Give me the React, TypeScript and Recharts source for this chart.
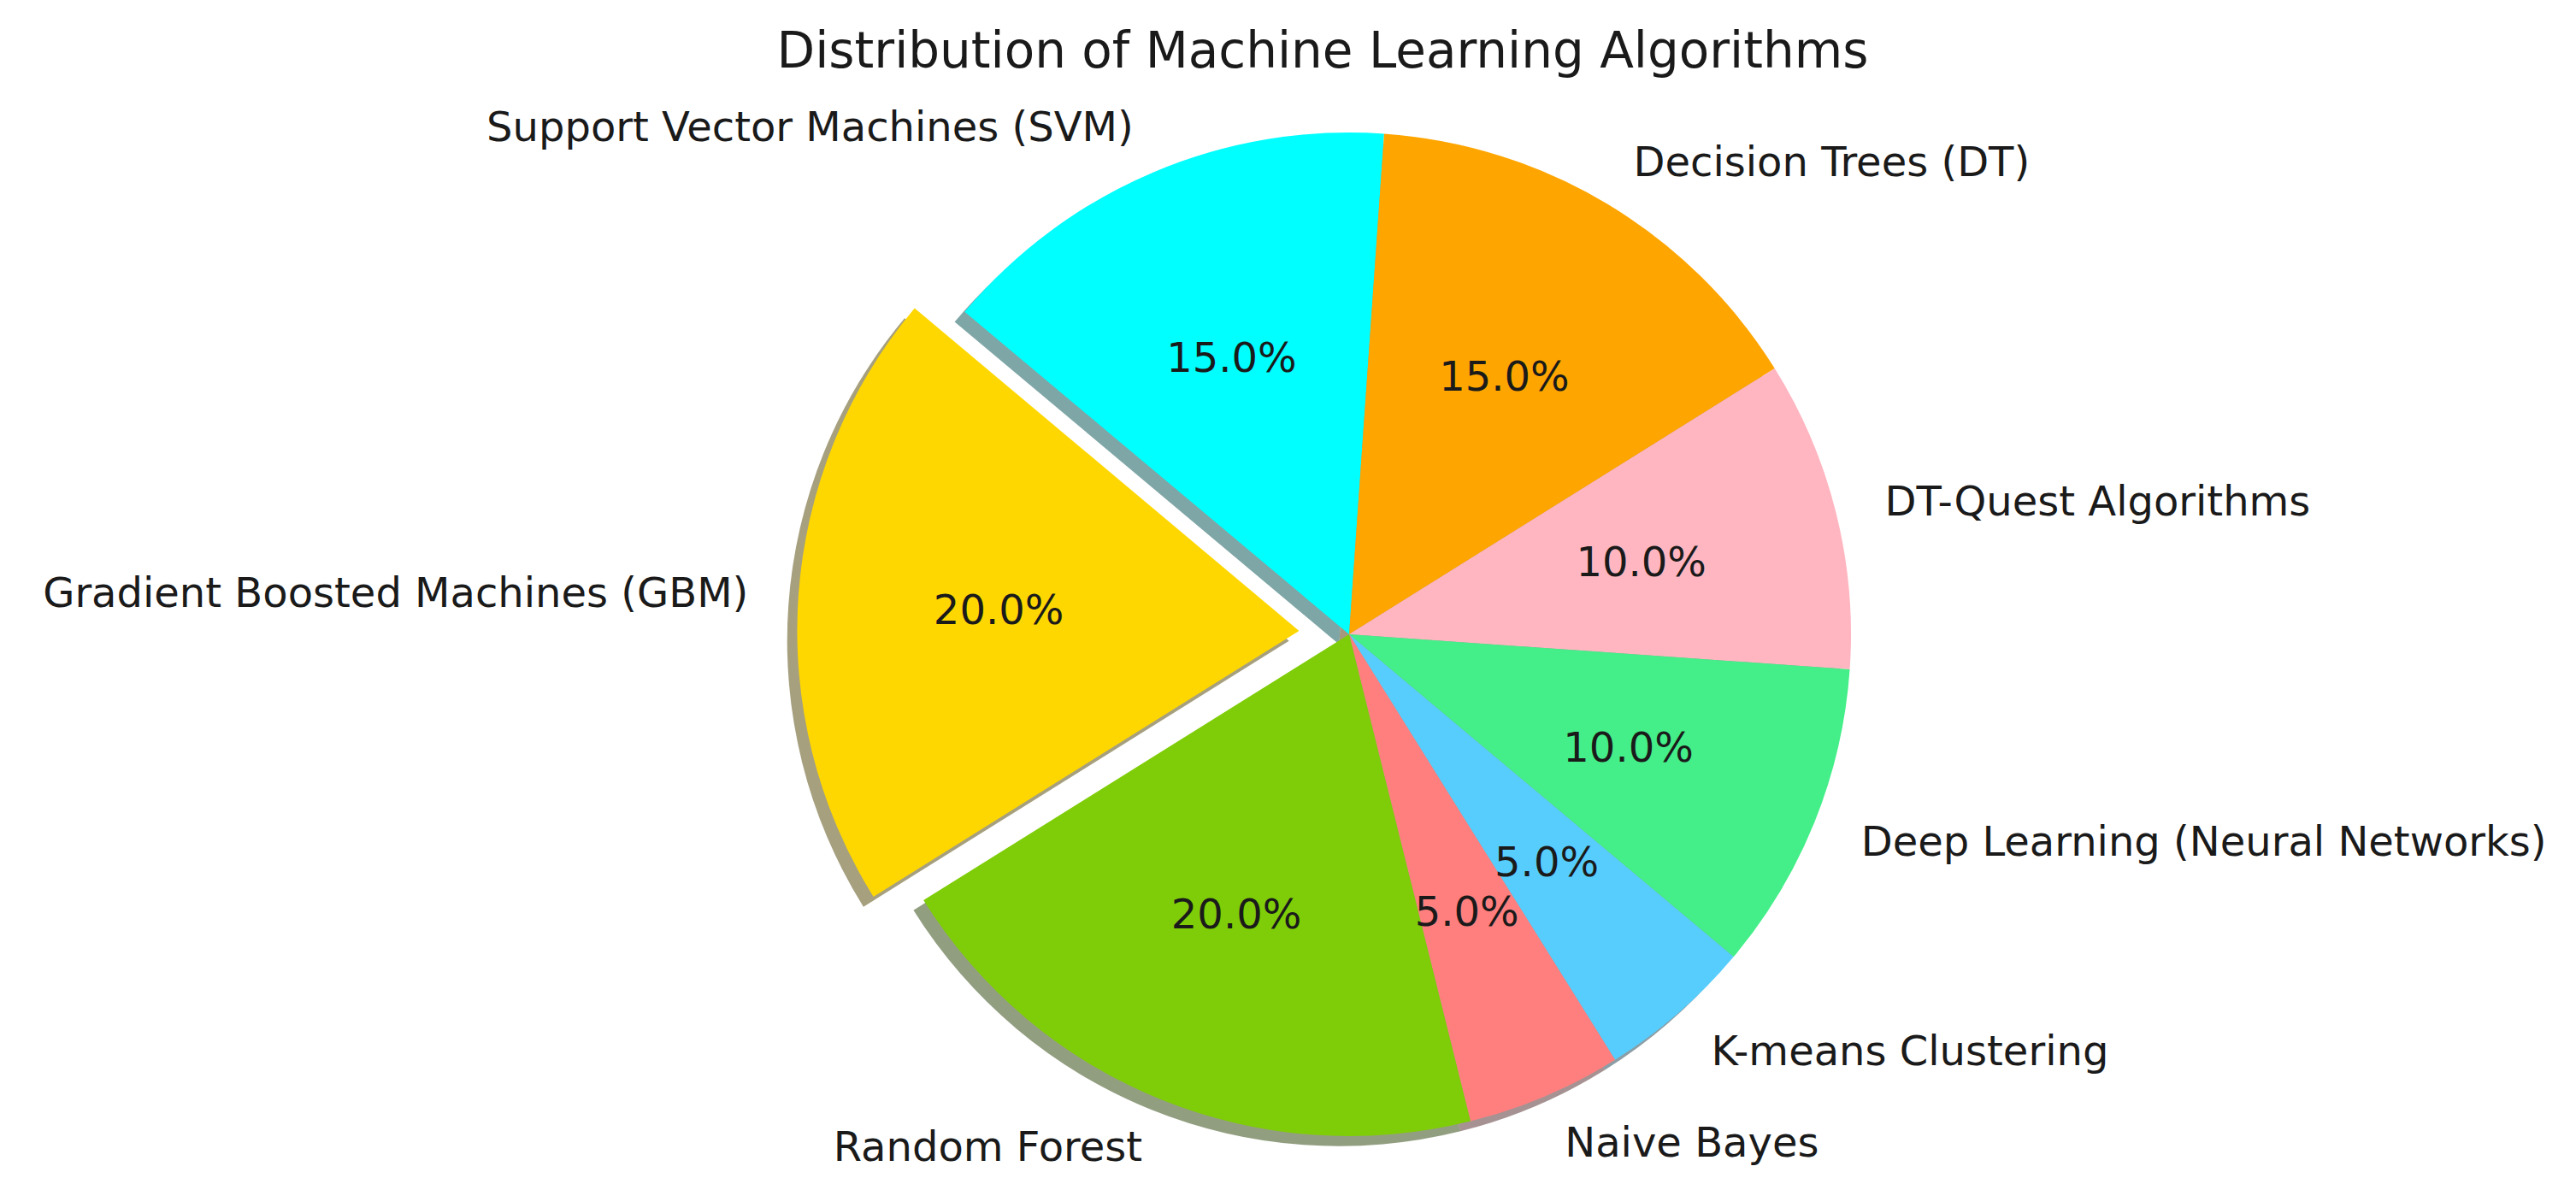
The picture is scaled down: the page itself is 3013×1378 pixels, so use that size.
import { PieChart, Pie, Cell } from "recharts";

const NAMES = [
  "Support Vector Machines (SVM)",
  "Decision Trees (DT)",
  "DT-Quest Algorithms",
  "Deep Learning (Neural Networks)",
  "K-means Clustering",
  "Naive Bayes",
  "Random Forest",
  "Gradient Boosted Machines (GBM)",
];
const SHARES = [15, 15, 10, 10, 5, 5, 20, 20];
const COLORS = ["#00FFFF", "#FFA500", "#FFB6C1", "#44EE88", "#57CDFD", "#FF7F7F", "#7FCD08", "#FFD700"];
const EXPLODE = [0, 0, 0, 0, 0, 0, 0, 0.1];

const WIDTH = 2997;
const HEIGHT = 1362;
const CX = 1565;
const CY = 729;
const R = 587;
const START = 140;
const END = START - 360;
const SHADOW = 0.02 * R;
const FONT = "DejaVu Sans";
const RAD = Math.PI / 180;

const data = NAMES.map((name, i) => ({ name, value: SHARES[i] }));
const total = SHARES.reduce((a, b) => a + b, 0);

// offset of an exploded wedge, along its mid angle
function explodeOffset(i: number) {
  const before = SHARES.slice(0, i).reduce((a, b) => a + b, 0);
  const mid = START - (360 * (before + SHARES[i] / 2)) / total;
  const d = EXPLODE[i] * R;
  return { dx: d * Math.cos(mid * RAD), dy: -d * Math.sin(mid * RAD) };
}

function shade(hex: string) {
  const n = parseInt(hex.slice(1), 16);
  const r = Math.round(((n >> 16) & 255) * 0.3);
  const g = Math.round(((n >> 8) & 255) * 0.3);
  const b = Math.round((n & 255) * 0.3);
  return `rgb(${r},${g},${b})`;
}

function makeLabel(show: (i: number) => boolean) {
  return (props: any) => {
    const { cx, cy, midAngle, outerRadius, percent, index, name } = props;
    if (!show(index)) return <g />;
    const cos = Math.cos(-midAngle * RAD);
    const sin = Math.sin(-midAngle * RAD);
    const lx = cx + outerRadius * 1.1 * cos;
    const ly = cy + outerRadius * 1.1 * sin;
    const px = cx + outerRadius * 0.6 * cos;
    const py = cy + outerRadius * 0.6 * sin;
    return (
      <g>
        <text
          x={lx}
          y={ly}
          textAnchor={cos >= 0 ? "start" : "end"}
          dominantBaseline="central"
          fill="#1a1a1a"
          fontFamily={FONT}
          fontSize={48}
        >
          {name}
        </text>
        <text
          x={px}
          y={py}
          textAnchor="middle"
          dominantBaseline="central"
          fill="#1a1a1a"
          fontFamily={FONT}
          fontSize={48}
        >
          {`${(percent * 100).toFixed(1)}%`}
        </text>
      </g>
    );
  };
}

const exploded = EXPLODE.map((e, i) => i).filter((i) => EXPLODE[i] > 0);

export default function App() {
  return (
    <div style={{ position: "relative", width: WIDTH, height: HEIGHT }}>
      <div
        style={{
          position: "absolute",
          top: 22,
          left: 539,
          width: 2000,
          textAlign: "center",
          fontFamily: FONT,
          fontSize: 58,
          lineHeight: "58px",
          color: "#1a1a1a",
        }}
      >
        Distribution of Machine Learning Algorithms
      </div>
      <PieChart width={WIDTH} height={HEIGHT}>
        {/* shadows of the wedges that stay in place */}
        <Pie
          data={data}
          dataKey="value"
          nameKey="name"
          cx={CX - SHADOW}
          cy={CY + SHADOW}
          outerRadius={R}
          startAngle={START}
          endAngle={END}
          stroke="none"
          label={false}
          labelLine={false}
          isAnimationActive={false}
        >
          {data.map((d, i) => (
            <Cell
              key={d.name}
              fill={EXPLODE[i] > 0 ? "none" : shade(COLORS[i])}
              fillOpacity={0.5}
            />
          ))}
        </Pie>
        {/* shadows of exploded wedges */}
        {exploded.map((k) => {
          const { dx, dy } = explodeOffset(k);
          return (
            <Pie
              key={`shadow-${k}`}
              data={data}
              dataKey="value"
              nameKey="name"
              cx={CX + dx - SHADOW}
              cy={CY + dy + SHADOW}
              outerRadius={R}
              startAngle={START}
              endAngle={END}
              stroke="none"
              label={false}
              labelLine={false}
              isAnimationActive={false}
            >
              {data.map((d, i) => (
                <Cell key={d.name} fill={i === k ? shade(COLORS[i]) : "none"} fillOpacity={0.5} />
              ))}
            </Pie>
          );
        })}
        {/* wedges */}
        <Pie
          data={data}
          dataKey="value"
          nameKey="name"
          cx={CX}
          cy={CY}
          outerRadius={R}
          startAngle={START}
          endAngle={END}
          stroke="none"
          label={makeLabel((i) => EXPLODE[i] === 0)}
          labelLine={false}
          isAnimationActive={false}
        >
          {data.map((d, i) => (
            <Cell key={d.name} fill={EXPLODE[i] > 0 ? "none" : COLORS[i]} />
          ))}
        </Pie>
        {exploded.map((k) => {
          const { dx, dy } = explodeOffset(k);
          return (
            <Pie
              key={`wedge-${k}`}
              data={data}
              dataKey="value"
              nameKey="name"
              cx={CX + dx}
              cy={CY + dy}
              outerRadius={R}
              startAngle={START}
              endAngle={END}
              stroke="none"
              label={makeLabel((i) => i === k)}
              labelLine={false}
              isAnimationActive={false}
            >
              {data.map((d, i) => (
                <Cell key={d.name} fill={i === k ? COLORS[i] : "none"} />
              ))}
            </Pie>
          );
        })}
      </PieChart>
    </div>
  );
}
